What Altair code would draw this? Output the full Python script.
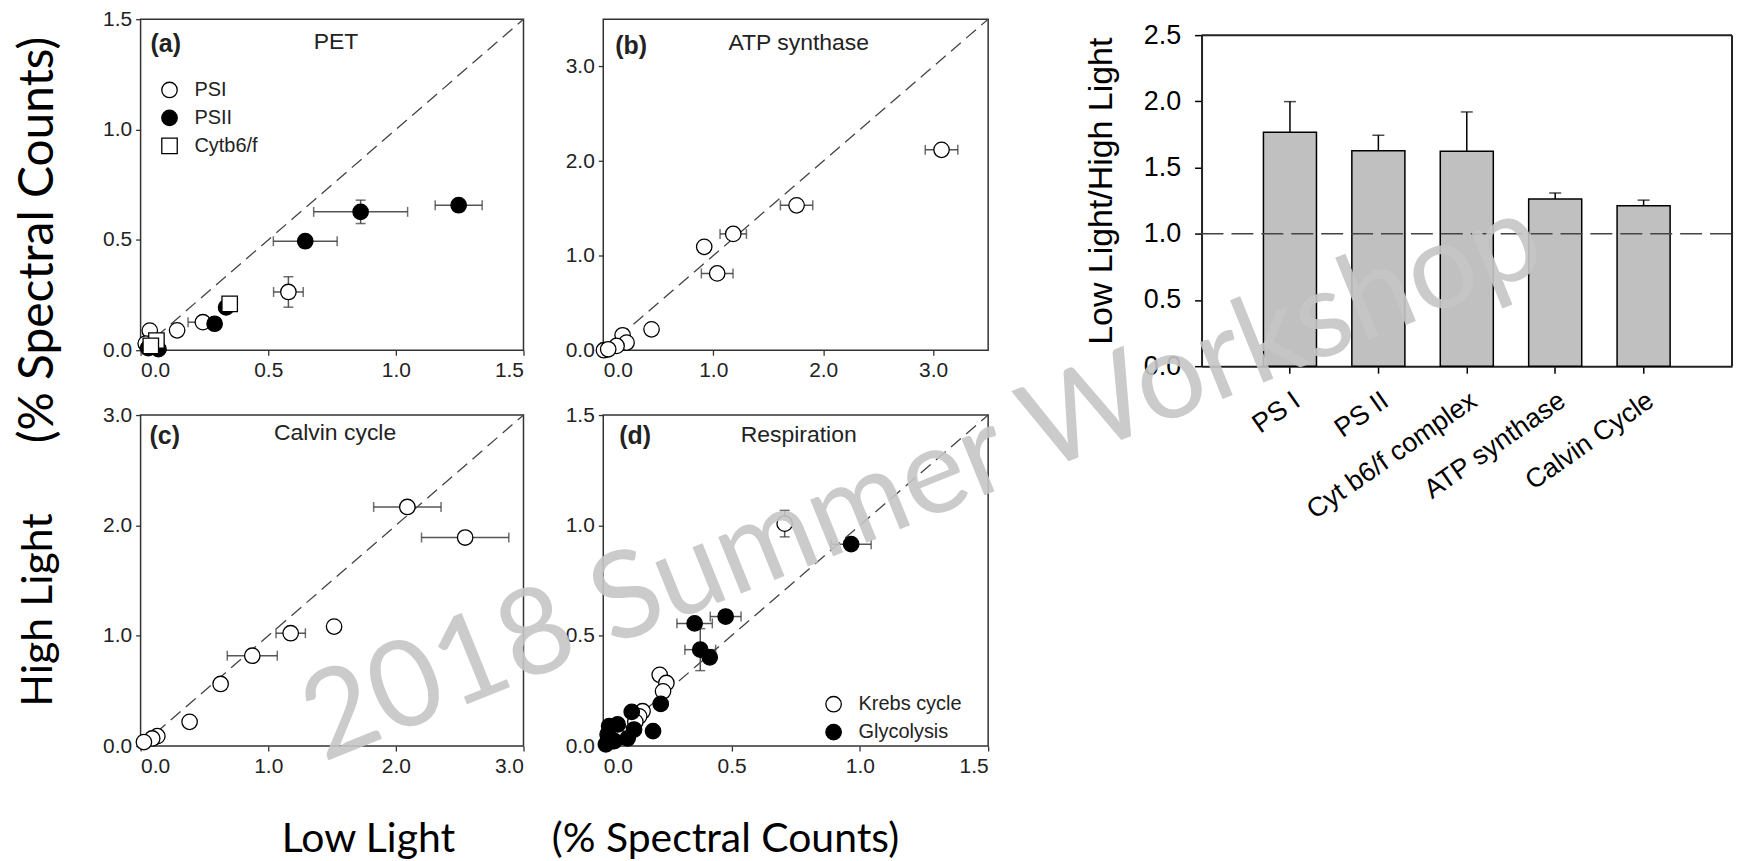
import altair as alt
import pandas as pd

# ---------------- data ----------------
# (a) PET
pet_group = ["PSI", "PSI", "PSI", "PSI", "PSI",
             "PSII", "PSII", "PSII", "PSII", "PSII", "PSII", "PSII", "PSII",
             "Cytb6/f", "Cytb6/f", "Cytb6/f"]
pet_x = [0.579, 0.244, 0.143, 0.036, 0.020,
         1.246, 0.862, 0.645, 0.290, 0.335, 0.030, 0.070, 0.050,
         0.349, 0.062, 0.040]
pet_y = [0.264, 0.127, 0.090, 0.089, 0.030,
         0.657, 0.627, 0.494, 0.120, 0.194, 0.010, 0.005, 0.020,
         0.210, 0.044, 0.020]
pet_xerr = [0.058, 0.058, 0, 0, 0,
            0.092, 0.184, 0.125, 0, 0, 0, 0, 0,
            0, 0, 0]
pet_yerr = [0.069, 0, 0, 0, 0,
            0, 0.053, 0, 0, 0, 0, 0, 0,
            0, 0, 0]

# (b) ATP synthase
atp_group = ["ATP synthase"] * 11
atp_x = [3.076, 1.758, 1.182, 0.918, 1.036, 0.439, 0.176, 0.212, 0.121, 0.006, 0.045]
atp_y = [2.119, 1.532, 1.230, 1.093, 0.812, 0.221, 0.158, 0.081, 0.046, 0.000, 0.010]
atp_xerr = [0.148, 0.147, 0.120, 0, 0.144, 0, 0, 0, 0, 0, 0]
atp_yerr = [0] * 11

# (c) Calvin cycle
cal_group = ["Calvin cycle"] * 10
cal_x = [2.090, 2.543, 1.516, 1.176, 0.875, 0.627, 0.384, 0.131, 0.091, 0.026]
cal_y = [2.167, 1.890, 1.083, 1.023, 0.819, 0.563, 0.220, 0.090, 0.069, 0.036]
cal_xerr = [0.264, 0.342, 0, 0.115, 0.196, 0, 0, 0, 0, 0]
cal_yerr = [0] * 10

# (d) Respiration
res_group = ["Krebs cycle"] * 9 + ["Glycolysis"] * 16
res_x = [0.707, 0.220, 0.246, 0.233, 0.153, 0.140, 0.125, 0.036, 0.060,
         0.966, 0.477, 0.356, 0.378, 0.415, 0.224, 0.111, 0.194, 0.120,
         0.095, 0.056, 0.023, 0.017, 0.010, 0.043, 0.030]
res_y = [1.008, 0.323, 0.286, 0.248, 0.158, 0.135, 0.110, 0.023, 0.040,
         0.915, 0.587, 0.556, 0.437, 0.402, 0.191, 0.155, 0.068, 0.075,
         0.035, 0.098, 0.090, 0.053, 0.008, 0.023, 0.030]
res_xerr = [0, 0, 0, 0, 0, 0, 0, 0, 0,
            0.078, 0.060, 0.069, 0.060, 0, 0, 0, 0, 0,
            0, 0, 0, 0, 0, 0, 0]
res_yerr = [0.060, 0, 0, 0, 0, 0, 0, 0, 0,
            0, 0, 0, 0.095, 0, 0, 0, 0, 0,
            0, 0, 0, 0, 0, 0, 0]

# bar chart: Low Light / High Light ratio
bar_categories = ["PS I", "PS II", "Cyt b6/f complex", "ATP synthase", "Calvin Cycle"]
bar_values = [1.767, 1.627, 1.624, 1.263, 1.212]
bar_errors = [0.231, 0.117, 0.296, 0.045, 0.042]
bar_ymax = [2.5]
ref_line = [1.0]

panel_letters = ["(a)", "(b)", "(c)", "(d)"]
panel_names = ["PET", "ATP synthase", "Calvin cycle", "Respiration"]
watermark_text = ["2018 Summer Workshop"]

SANS = "Liberation Sans"
BIG = "Lato"


def make_df(g, x, y, xe, ye):
    return pd.DataFrame({"group": g, "x": x, "y": y, "xerr": xe, "yerr": ye})


def panel(df, dmax, ticks, letter, name, groups, fills, shapes,
          letter_xy, name_xy, width, height,
          legend_xy=None, xtitle=None, ytitle=None, watermark=None):
    sc = alt.Scale(domain=[0, dmax], nice=False, zero=False)
    sc_y = alt.Scale(domain=[0, dmax], nice=False, zero=False)

    def axis(kind):
        kw = dict(values=ticks, format=".1f", domain=False, grid=False,
                  tickSize=5, tickColor="#333", tickWidth=1.3,
                  labelFontSize=21, labelFont=SANS, labelColor="#222",
                  labelOverlap=False, labelPadding=4)
        t = xtitle if kind == "x" else ytitle
        if t is not None:
            kw.update(title=t["text"], titleFont=BIG, titleFontSize=t["size"],
                      titleFontWeight="normal", titleColor="black",
                      titleX=t["x"], titleY=t["y"], titleAlign="center",
                      titleBaseline="middle", titleLimit=800)
            if kind == "y":
                kw.update(titleAngle=270)
        else:
            kw.update(title="")
        return alt.Axis(**kw)

    ax_x, ax_y = axis("x"), axis("y")

    def X(f):
        return alt.X(f, type="quantitative", scale=sc, axis=ax_x)

    def Y(f):
        return alt.Y(f, type="quantitative", scale=sc_y, axis=ax_y)

    base = alt.Chart(df)
    diag = alt.Chart(pd.DataFrame({"x": [0, dmax], "y": [0, dmax]})).mark_line(
        color="#444", strokeWidth=1.3, strokeDash=[13, 7]).encode(x=X("x"), y=Y("y"))

    xe = base.transform_filter("datum.xerr > 0").transform_calculate(
        lo="datum.x - datum.xerr", hi="datum.x + datum.xerr")
    xe_rule = xe.mark_rule(color="#555", strokeWidth=1.5).encode(
        x=X("lo"), x2="hi:Q", y=Y("y"))
    xe_caps = xe.transform_fold(["lo", "hi"], as_=["end", "xv"]).mark_tick(
        orient="vertical", size=10, thickness=1.5, color="#333").encode(x=X("xv"), y=Y("y"))

    ye = base.transform_filter("datum.yerr > 0").transform_calculate(
        lo="datum.y - datum.yerr", hi="datum.y + datum.yerr")
    ye_rule = ye.mark_rule(color="#555", strokeWidth=1.5).encode(
        x=X("x"), y=Y("lo"), y2="hi:Q")
    ye_caps = ye.transform_fold(["lo", "hi"], as_=["end", "yv"]).mark_tick(
        orient="horizontal", size=10, thickness=1.5, color="#333").encode(x=X("x"), y=Y("yv"))

    fill_kw = dict(scale=alt.Scale(domain=groups, range=fills))
    shape_kw = dict(scale=alt.Scale(domain=groups, range=shapes))
    stroke_kw = dict(scale=alt.Scale(domain=groups, range=["black"] * len(groups)))
    if legend_xy is not None:
        leg = alt.Legend(title=None, orient="none", legendX=legend_xy[0], legendY=legend_xy[1],
                         labelFont=SANS, labelFontSize=20, labelColor="#222",
                         symbolSize=240, symbolStrokeWidth=1.3, symbolOpacity=1,
                         rowPadding=6, labelOffset=15, padding=0)
        fill_enc = alt.Fill("group:N", legend=leg, **fill_kw)
        shape_enc = alt.Shape("group:N", legend=leg, **shape_kw)
        stroke_enc = alt.Stroke("group:N", legend=leg, **stroke_kw)
    else:
        fill_enc = alt.Fill("group:N", legend=None, **fill_kw)
        shape_enc = alt.Shape("group:N", legend=None, **shape_kw)
        stroke_enc = alt.Stroke("group:N", legend=None, **stroke_kw)

    pts = base.mark_point(filled=True, size=240, strokeWidth=1.3, opacity=1).encode(
        x=X("x"), y=Y("y"), fill=fill_enc, shape=shape_enc, stroke=stroke_enc)

    lab_df = pd.DataFrame({"letter": [letter], "name": [name]})
    t_letter = alt.Chart(lab_df).mark_text(
        font=SANS, fontSize=25, fontWeight="bold", align="left", baseline="middle",
        color="#222").encode(text="letter:N", x=alt.value(letter_xy[0]), y=alt.value(letter_xy[1]))
    t_name = alt.Chart(lab_df).mark_text(
        font=SANS, fontSize=23, align="center", baseline="middle",
        color="#222").encode(text="name:N", x=alt.value(name_xy[0]), y=alt.value(name_xy[1]))

    layers = [diag, xe_rule, ye_rule, xe_caps, ye_caps, pts, t_letter, t_name]
    if watermark is not None:
        wm_df = pd.DataFrame({"t": watermark_text})
        layers.append(alt.Chart(wm_df).mark_text(
            font=BIG, fontSize=watermark["size"], align="center",
            baseline="alphabetic", angle=watermark["angle"], color="#c6c6c6",
            opacity=0.9).encode(text="t:N", x=alt.value(watermark["x"]), y=alt.value(watermark["y"])))
    return alt.layer(*layers).properties(width=width, height=height)


W, H = 384, 332

pa = panel(make_df(pet_group, pet_x, pet_y, pet_xerr, pet_yerr), 1.5, [0, 0.5, 1.0, 1.5],
           panel_letters[0], panel_names[0], ["PSI", "PSII", "Cytb6/f"],
           ["white", "black", "white"], ["circle", "circle", "square"],
           (10, 25), (196, 23), W, H, legend_xy=(19, 61),
           ytitle={"text": "(% Spectral Counts)", "x": -102, "y": 221, "size": 48})
pb = panel(make_df(atp_group, atp_x, atp_y, atp_xerr, atp_yerr), 3.5, [0, 1, 2, 3],
           panel_letters[1], panel_names[1], ["ATP synthase"], ["white"], ["circle"],
           (12, 27), (196, 24), 386, H)
pc = panel(make_df(cal_group, cal_x, cal_y, cal_xerr, cal_yerr), 3.0, [0, 1, 2, 3],
           panel_letters[2], panel_names[2], ["Calvin cycle"], ["white"], ["circle"],
           (9, 21), (195, 18), W, H,
           xtitle={"text": "Low Light", "x": 228, "y": 94, "size": 41},
           ytitle={"text": "High Light", "x": -102, "y": 195, "size": 43})
pd_ = panel(make_df(res_group, res_x, res_y, res_xerr, res_yerr), 1.5, [0, 0.5, 1.0, 1.5],
            panel_letters[3], panel_names[3], ["Krebs cycle", "Glycolysis"],
            ["white", "black"], ["circle", "circle"],
            (16, 21), (196, 20), 386, H, legend_xy=(221, 280),
            xtitle={"text": "(% Spectral Counts)", "x": 122, "y": 94, "size": 41},
            watermark={"x": 334, "y": 100, "angle": 338, "size": 121})

# ---------------- bar chart ----------------
BH = 348  # view height; the plot area spans the lower 332 px
bar_df = pd.DataFrame({"cat": bar_categories, "val": bar_values, "err": bar_errors})
xb = alt.X("cat:N", sort=bar_categories,
           scale=alt.Scale(paddingInner=0.4, paddingOuter=0.7),
           axis=alt.Axis(title="", labelAngle=325, labelAlign="right", labelBaseline="top",
                         labelFont=SANS, labelFontSize=27, labelColor="black", labelLimit=600,
                         labelPadding=14, tickSize=7, tickColor="black", tickWidth=1.5,
                         domain=True, domainColor="#222", domainWidth=2,
                         labelOverlap=False, labelBound=False))
yb_scale = alt.Scale(domain=[0, 2.5], nice=False, range=[BH, 16])
yb_axis = alt.Axis(title="Low Light/High Light", values=[0, 0.5, 1.0, 1.5, 2.0, 2.5], format=".1f",
                   labelFont=SANS, labelFontSize=27, labelColor="black", labelPadding=14,
                   tickSize=7, tickColor="black", tickWidth=1.5,
                   domain=True, domainColor="#222", domainWidth=2, grid=False,
                   titleFont=SANS, titleFontSize=34, titleFontWeight="normal",
                   titleColor="black", titleX=-100, titleY=172, titleAngle=270,
                   titleAlign="center", titleBaseline="middle", labelOverlap=False,
                   titleLimit=800)


def YB(f):
    return alt.Y(f, type="quantitative", scale=yb_scale, axis=yb_axis)


bars = alt.Chart(bar_df).mark_bar(fill="#c0c0c0", stroke="black", strokeWidth=1.5).encode(
    x=xb, y=YB("val"))
eb = alt.Chart(bar_df).transform_calculate(top="datum.val + datum.err")
eb_rule = eb.mark_rule(color="black", strokeWidth=1.5).encode(x=xb, y=YB("val"), y2="top:Q")
eb_cap = eb.mark_tick(orient="horizontal", size=12, thickness=1.5, color="black").encode(
    x=xb, y=YB("top"))
ref = alt.Chart(pd.DataFrame({"r": ref_line})).mark_rule(
    color="#444", strokeWidth=1.3, strokeDash=[22, 8]).encode(y=YB("r"))
frame_df = pd.DataFrame({"top": bar_ymax, "bottom": [0.0]})
frame_top = alt.Chart(frame_df).mark_rule(color="#222", strokeWidth=2).encode(y=YB("top"))
frame_right = alt.Chart(frame_df).mark_rule(color="#222", strokeWidth=2).encode(
    x=alt.value(532), y=YB("bottom"), y2="top:Q")
bar_chart = alt.layer(bars, eb_rule, eb_cap, ref, frame_top, frame_right).properties(
    width=532, height=BH, view=alt.ViewBackground(stroke="transparent"))

spacer = alt.Chart(pd.DataFrame({"v": [0]})).mark_point(opacity=0).properties(
    width=54, height=1, view=alt.ViewBackground(stroke="transparent"))

chart = alt.concat(pa, pb, spacer, bar_chart, pc, pd_, columns=4,
                   spacing={"row": 49, "column": 80}, bounds="flush", align="each").properties(
    padding={"left": 14, "top": 6, "right": 4, "bottom": 0},
    background="white",
).configure_view(stroke="#333", strokeWidth=1.5).resolve_scale(
    fill="independent", shape="independent", stroke="independent")

chart.save("out.html", embed_options={"renderer": "svg", "actions": False})
